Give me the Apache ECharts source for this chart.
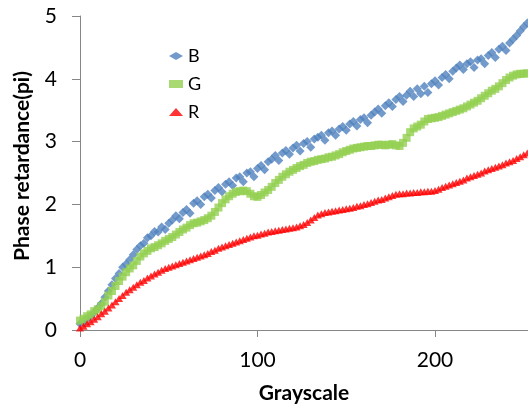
<!DOCTYPE html>
<html>
<head>
<meta charset="utf-8">
<script src="https://cdn.jsdelivr.net/npm/echarts@6/dist/echarts.min.js"></script>
<style>html,body{margin:0;padding:0;background:#fff;}#c{width:528px;height:412px;}</style>
</head>
<body>
<div id="c"></div>
<script>
const grayscale = [
  0,2,4,6,8,10,12,14,16,18,
  20,22,24,26,28,30,32,34,36,38,
  40,42,44,46,48,50,52,54,56,58,
  60,62,64,66,68,70,72,74,76,78,
  80,82,84,86,88,90,92,94,96,98,
  100,102,104,106,108,110,112,114,116,118,
  120,122,124,126,128,130,132,134,136,138,
  140,142,144,146,148,150,152,154,156,158,
  160,162,164,166,168,170,172,174,176,178,
  180,182,184,186,188,190,192,194,196,198,
  200,202,204,206,208,210,212,214,216,218,
  220,222,224,226,228,230,232,234,236,238,
  240,242,244,246,248,250,252
];
const seriesB = [
  0.10,0.12,0.18,0.22,0.28,0.35,0.42,0.52,0.62,0.72,
  0.82,0.90,1.00,1.05,1.12,1.20,1.28,1.34,1.38,1.47,
  1.50,1.57,1.56,1.64,1.60,1.70,1.75,1.82,1.77,1.87,
  1.92,1.86,2.02,2.06,2.00,2.12,2.16,2.10,2.22,2.27,
  2.20,2.32,2.36,2.30,2.42,2.44,2.36,2.50,2.52,2.44,
  2.57,2.62,2.55,2.68,2.72,2.78,2.70,2.82,2.86,2.80,
  2.90,2.94,2.85,2.97,3.00,2.91,3.04,3.07,3.10,3.02,
  3.14,3.17,3.10,3.20,3.24,3.18,3.28,3.32,3.25,3.35,
  3.38,3.30,3.42,3.47,3.52,3.45,3.57,3.62,3.56,3.67,
  3.72,3.64,3.74,3.80,3.72,3.84,3.76,3.88,3.78,3.92,
  3.97,3.90,4.02,4.07,4.00,4.12,4.17,4.22,4.15,4.24,
  4.27,4.18,4.30,4.32,4.24,4.37,4.42,4.34,4.47,4.52,
  4.45,4.57,4.63,4.69,4.76,4.83,4.89
];
const seriesG = [
  0.15,0.18,0.22,0.25,0.30,0.33,0.38,0.45,0.55,0.62,
  0.70,0.78,0.85,0.92,0.98,1.03,1.10,1.17,1.22,1.26,
  1.30,1.32,1.35,1.38,1.42,1.45,1.48,1.52,1.56,1.60,
  1.63,1.67,1.70,1.71,1.73,1.75,1.78,1.82,1.88,1.95,
  2.02,2.08,2.13,2.17,2.20,2.21,2.22,2.21,2.17,2.13,
  2.12,2.15,2.19,2.23,2.28,2.34,2.39,2.44,2.48,2.52,
  2.55,2.58,2.61,2.63,2.66,2.68,2.69,2.71,2.72,2.73,
  2.75,2.76,2.78,2.80,2.83,2.85,2.87,2.89,2.90,2.91,
  2.92,2.93,2.93,2.94,2.95,2.95,2.94,2.95,2.96,2.94,
  2.93,2.98,3.06,3.15,3.21,3.24,3.27,3.32,3.36,3.37,
  3.38,3.39,3.41,3.43,3.45,3.47,3.49,3.51,3.53,3.56,
  3.59,3.62,3.65,3.69,3.73,3.77,3.81,3.84,3.88,3.93,
  3.98,4.02,4.05,4.07,4.08,4.08,4.09
];
const seriesR = [
  0.03,0.06,0.10,0.13,0.17,0.21,0.26,0.30,0.35,0.40,
  0.45,0.50,0.55,0.60,0.64,0.68,0.72,0.76,0.79,0.83,
  0.86,0.89,0.92,0.95,0.98,1.00,1.02,1.04,1.06,1.08,
  1.10,1.12,1.14,1.16,1.18,1.20,1.22,1.25,1.27,1.30,
  1.32,1.34,1.36,1.38,1.40,1.42,1.44,1.46,1.48,1.50,
  1.51,1.53,1.54,1.56,1.57,1.58,1.59,1.60,1.61,1.62,
  1.63,1.64,1.66,1.68,1.71,1.75,1.79,1.83,1.85,1.87,
  1.88,1.89,1.90,1.91,1.92,1.93,1.94,1.95,1.97,1.98,
  2.00,2.01,2.03,2.05,2.07,2.08,2.10,2.12,2.14,2.16,
  2.17,2.17,2.18,2.18,2.19,2.19,2.20,2.20,2.21,2.21,
  2.22,2.24,2.27,2.29,2.31,2.33,2.35,2.37,2.39,2.42,
  2.44,2.46,2.48,2.50,2.53,2.55,2.57,2.59,2.61,2.63,
  2.66,2.68,2.70,2.73,2.76,2.79,2.82
];
const xTicks = [0, 100, 200];
const yTicks = [0, 1, 2, 3, 4, 5];
const seriesNames = ['B', 'G', 'R'];

const pair = (vals) => grayscale.map((g, i) => [g, vals[i]]);
const FONT = 'Lato, "Open Sans", sans-serif';
const AXIS_COLOR = '#868686';

const chart = echarts.init(document.getElementById('c'), null, { renderer: 'canvas' });
chart.setOption({
  animation: false,
  backgroundColor: '#ffffff',
  grid: { left: 80, right: 0, top: 16, bottom: 82, containLabel: false },
  legend: {
    orient: 'vertical',
    left: 164,
    top: 41,
    itemWidth: 14,
    itemHeight: 8,
    itemGap: 8,
    data: seriesNames,
    textStyle: { fontFamily: FONT, fontSize: 18, color: '#000', lineHeight: 20 }
  },
  xAxis: {
    type: 'value',
    min: 0,
    max: 252.4,
    interval: 100,
    splitLine: { show: false },
    axisLine: { show: true, lineStyle: { color: AXIS_COLOR, width: 1 } },
    axisTick: { show: true, length: 7, lineStyle: { color: AXIS_COLOR } },
    axisLabel: {
      showMaxLabel: false,
      margin: 20,
      fontFamily: FONT, fontSize: 21, color: '#000',
      formatter: (v) => (xTicks.indexOf(v) >= 0 ? String(v) : '')
    },
    name: 'Grayscale',
    nameLocation: 'middle',
    nameGap: 53,
    nameTextStyle: { fontFamily: FONT, fontSize: 21, fontWeight: 'bold', color: '#000' }
  },
  yAxis: {
    type: 'value',
    min: 0,
    max: 5,
    interval: 1,
    splitLine: { show: false },
    axisLine: { show: true, lineStyle: { color: AXIS_COLOR, width: 1 } },
    axisTick: { show: true, length: 8, lineStyle: { color: AXIS_COLOR } },
    axisLabel: {
      margin: 23,
      fontFamily: FONT, fontSize: 21, color: '#000',
      formatter: (v) => (yTicks.indexOf(v) >= 0 ? String(v) : '')
    }
  },
  graphic: [{
    type: 'text',
    x: 22,
    y: 166,
    rotation: Math.PI / 2,
    style: {
      text: 'Phase retardance(pi)',
      font: 'bold 21px ' + FONT,
      fill: '#000',
      textAlign: 'center',
      textVerticalAlign: 'middle'
    }
  }],
  series: [
    { name: seriesNames[0], type: 'scatter', symbol: 'diamond', symbolSize: 9, clip: false,
      itemStyle: { color: '#4F81BD' }, data: pair(seriesB) },
    { name: seriesNames[1], type: 'scatter', symbol: 'rect', symbolSize: 8, clip: false,
      itemStyle: { color: '#92D050' }, data: pair(seriesG) },
    { name: seriesNames[2], type: 'scatter', symbol: 'triangle', symbolSize: [8, 7], clip: false,
      itemStyle: { color: '#FF0000' }, data: pair(seriesR) }
  ]
});
</script>
</body>
</html>
